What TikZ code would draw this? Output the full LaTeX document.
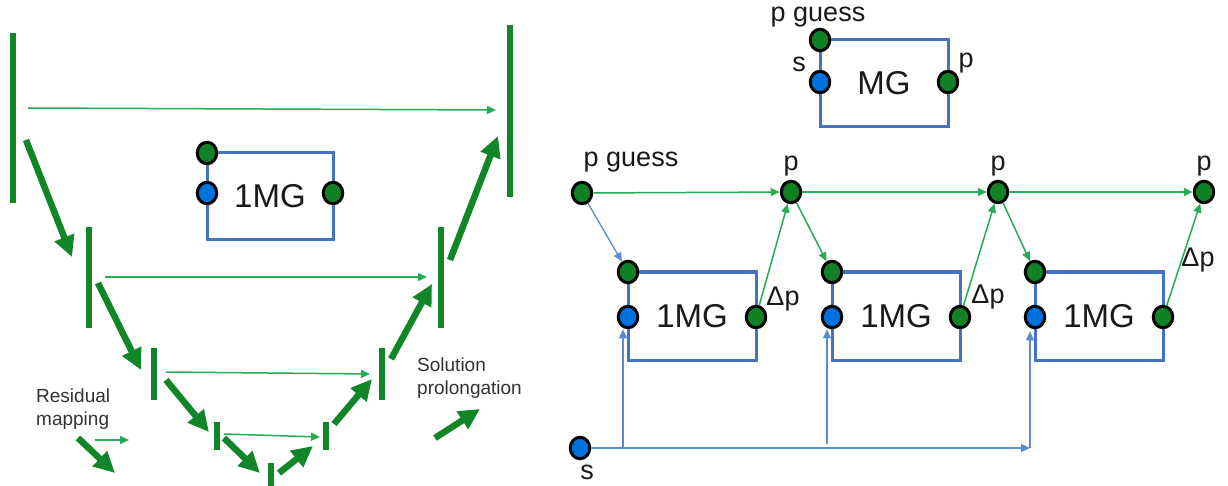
\documentclass[tikz,border=0pt]{standalone}
\usepackage{fontspec}
\setmainfont{Liberation Sans}
\usetikzlibrary{arrows.meta,shapes.geometric}
\definecolor{dgreen}{RGB}{16,134,40}
\definecolor{lgreen}{RGB}{38,172,84}
\definecolor{pgreen}{RGB}{18,128,36}
\definecolor{pblue}{RGB}{0,114,222}
\definecolor{bblue}{RGB}{68,114,196}
\definecolor{lblue}{RGB}{90,138,208}
\definecolor{txt}{RGB}{25,25,25}
\definecolor{legtxt}{RGB}{50,50,50}
\begin{document}
\begin{tikzpicture}[x=1pt,y=-1pt,
  bar/.style={draw=dgreen, line width=6.8pt},
  thickarr/.style={draw=dgreen, line width=6.5pt, -{Triangle[length=21pt,width=20pt]}},
  thinarr/.style={draw=lgreen, line width=1.5pt, -{Triangle[length=9pt,width=8pt]}},
  bluearr/.style={draw=lblue, line width=1.3pt, -{Triangle[length=9pt,width=8pt]}},
  mgbox/.style={draw=bblue, line width=3pt, rectangle, minimum width=126pt, minimum height=87pt, inner sep=0pt, outer sep=0pt, text=txt, font=\fontsize{33}{39}\selectfont},
  gport/.style={ellipse, draw=black, fill=pgreen, line width=3pt, minimum width=19.5pt, minimum height=21.5pt, inner sep=0pt},
  bport/.style={ellipse, draw=black, fill=pblue, line width=3pt, minimum width=19.5pt, minimum height=21.5pt, inner sep=0pt},
  lbl/.style={text=txt, font=\fontsize{27}{32}\selectfont, inner sep=0pt},
  legend/.style={text=legtxt, font=\fontsize{19}{23}\selectfont, align=left, anchor=west, inner sep=0pt}
]
\useasboundingbox[fill=white] (0,0) rectangle (1228,486);

% ---------- left: V-cycle ----------
\draw[bar] (13,33) -- (13,203);
\draw[bar] (510,25) -- (510,197);
\draw[bar] (89,227) -- (89,328);
\draw[bar] (441,227) -- (441,328);
\draw[bar] (154,348) -- (154,400);
\draw[bar] (382,348) -- (382,400);
\draw[bar] (217,422) -- (217,450);
\draw[bar] (326,422) -- (326,450);
\draw[bar] (271,463) -- (271,486);

\draw[thinarr] (28,108) -- (496,110);
\draw[thinarr] (105,277) -- (427,277);
\draw[thinarr] (166,372) -- (370,374);
\draw[thinarr] (224,434) -- (320,437);

\draw[thickarr] (26,140) -- (72,257);
\draw[thickarr] (98,283) -- (141,370);
\draw[thickarr] (166,380) -- (209,432);
\draw[thickarr] (224,438) -- (260,473);
\draw[thickarr] (279,473) -- (313,446);
\draw[thickarr] (334,424) -- (372,379);
\draw[thickarr] (391,359) -- (432,284);
\draw[thickarr] (450,260) -- (498,136);

% legend
\node[legend] (resid) at (36,409) {Residual\\mapping};
\draw[thinarr] (95,440) -- (129,440);
\draw[thickarr] (78,438) -- (115,473);
\node[legend] (solu) at (417,378) {Solution\\prolongation};
\draw[thickarr] (435,438) -- (480,409);

% 1MG box (left)
\node[mgbox] (B0) at (270,196.5) {1MG};
\node[gport] (B0t) at (B0.north west) {};
\node[bport] (B0s) at ([yshift=-40pt]B0.north west) {};
\node[gport] (B0r) at ([yshift=-40pt]B0.north east) {};

% ---------- right: MG legend box ----------
\node[mgbox, minimum width=128pt] (M) at (884,83.5) {MG};
\node[gport] (Mt) at (M.north west) {};
\node[bport] (Ms) at ([yshift=-42pt]M.north west) {};
\node[gport] (Mr) at ([yshift=-42pt]M.north east) {};
\node[lbl] (Mtl) at (818,17) {p guess};
\node[lbl] (Msl) at (799,64) {s};
\node[lbl] (Mrl) at (966,63) {p};

% ---------- right: chain ----------
\node[gport] (pg) at (582,193) {};
\node[gport] (p1) at (791,192) {};
\node[gport] (p2) at (998,192) {};
\node[gport] (p3) at (1204,192) {};
\node[lbl] (pgl) at (631,162) {p guess};
\node[lbl] (p1l) at (791,166) {p};
\node[lbl] (p2l) at (998,166) {p};
\node[lbl] (p3l) at (1204,166) {p};

\node[mgbox, minimum width=128pt, minimum height=88pt] (B1) at (692,316) {1MG};
\node[mgbox, minimum width=128pt, minimum height=88pt] (B2) at (896,316) {1MG};
\node[mgbox, minimum width=128pt, minimum height=88pt] (B3) at (1099,316) {1MG};
\foreach \b in {B1,B2,B3}{
  \node[gport] (\b t) at (\b.north west) {};
  \node[bport] (\b s) at ([yshift=-45pt]\b.north west) {};
  \node[gport] (\b r) at ([yshift=-45pt]\b.north east) {};
}
\node[lbl] (d1) at (783,299) {Δp};
\node[lbl] (d2) at (988,297) {Δp};
\node[lbl] (d3) at (1198,260) {Δp};

\draw[thinarr] (pg) -- (p1);
\draw[thinarr] (p1) -- (p2);
\draw[thinarr] (p2) -- (p3);
\draw[bluearr] (pg) -- (B1t);
\draw[thinarr] (B1r) -- (p1);
\draw[thinarr] (p1) -- (B2t);
\draw[thinarr] (B2r) -- (p2);
\draw[thinarr] (p2) -- (B3t);
\draw[thinarr] (B3r) -- (p3);

\node[bport] (s) at (580,448) {};
\node[lbl] (sl) at (587,472) {s};
\coordinate (j1) at (623,448);
\coordinate (j2) at (827,448);
\coordinate (j3) at (1030,448);
\draw[bluearr] (s) -- (j3);
\draw[bluearr] (j1) -- (j1 |- B1s.south);
\draw[bluearr] ([yshift=4pt]j2) -- (j2 |- B2s.south);
\draw[bluearr] (j3) -- ([yshift=-2pt]j3 |- B3s.south);
\end{tikzpicture}
\end{document}
